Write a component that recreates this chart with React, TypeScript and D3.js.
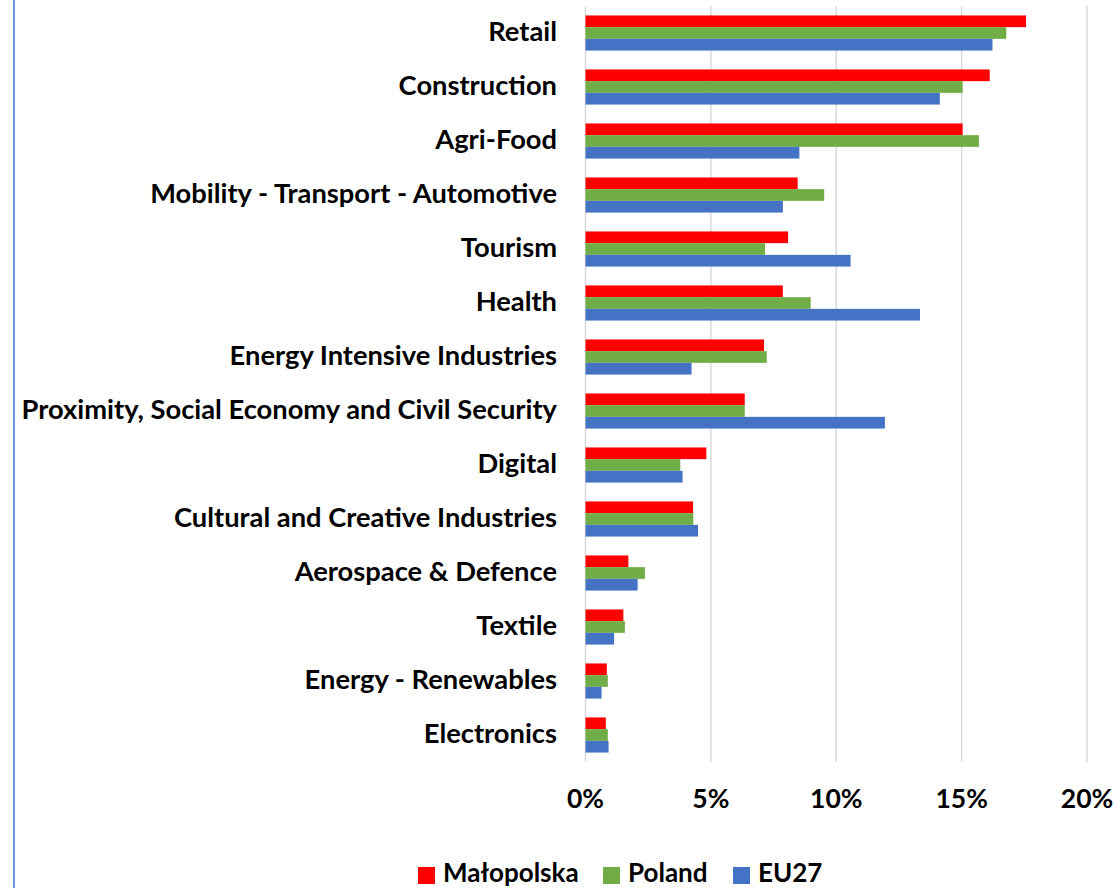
import React from "react";
import * as d3 from "d3";

const categories = [
  "Retail",
  "Construction",
  "Agri-Food",
  "Mobility - Transport - Automotive",
  "Tourism",
  "Health",
  "Energy Intensive Industries",
  "Proximity, Social Economy and Civil Security",
  "Digital",
  "Cultural and Creative Industries",
  "Aerospace & Defence",
  "Textile",
  "Energy - Renewables",
  "Electronics",
];

const malopolska = [17.57, 16.12, 15.04, 8.46, 8.08, 7.87, 7.12, 6.35, 4.82, 4.29, 1.71, 1.51, 0.85, 0.81];
const poland = [16.78, 15.04, 15.69, 9.52, 7.16, 8.98, 7.23, 6.35, 3.78, 4.3, 2.37, 1.57, 0.89, 0.89];
const eu27 = [16.23, 14.13, 8.53, 7.87, 10.57, 13.34, 4.23, 11.94, 3.87, 4.49, 2.08, 1.14, 0.64, 0.92];

const seriesNames = ["Małopolska", "Poland", "EU27"];
const seriesColors = ["#FF0000", "#70AD47", "#4472C4"];
const xTicks = [0, 5, 10, 15, 20];

const W = 1119;
const H = 888;
const FONT = "Lato, 'Open Sans', sans-serif";

export default function App() {
  const series = [malopolska, poland, eu27];
  const x = d3.scaleLinear().domain([0, 20]).range([585.5, 1087]);
  const y = d3.scaleBand<string>().domain(categories).range([6, 762]).paddingInner(0.35).paddingOuter(0.175);
  const inner = d3.scaleBand<number>().domain([0, 1, 2]).range([0, y.bandwidth()]);

  const legendX = [418, 603, 733];

  return (
    <svg
      width={W}
      height={H}
      style={{ position: "absolute", left: 0, top: 0, background: "#fff" }}
      fontFamily={FONT}
    >
      <rect x={0} y={0} width={W} height={H} fill="#fff" />
      <line x1={14} x2={14} y1={0} y2={H} stroke="#6A95DA" strokeWidth={2} />
      {xTicks.map((t) => (
        <line key={t} x1={x(t)} x2={x(t)} y1={6} y2={762} stroke="#D9D9D9" strokeWidth={1.5} />
      ))}
      {categories.map((c, i) => (
        <g key={c}>
          {series.map((s, j) => (
            <rect
              key={j}
              x={x(0)}
              y={(y(c) as number) + (inner(j) as number)}
              width={x(s[i]) - x(0)}
              height={inner.bandwidth()}
              fill={seriesColors[j]}
            />
          ))}
          <text
            x={557}
            y={(y(c) as number) + y.bandwidth() / 2 - 3}
            textAnchor="end"
            dominantBaseline="central"
            fontWeight={700}
            fontSize={27.3}
            fill="#000"
          >
            {c}
          </text>
        </g>
      ))}
      {xTicks.map((t) => (
        <text
          key={t}
          x={x(t)}
          y={798}
          textAnchor="middle"
          dominantBaseline="central"
          fontWeight={700}
          fontSize={26.5}
          fill="#000"
        >
          {t + "%"}
        </text>
      ))}
      {seriesNames.map((n, j) => (
        <g key={n}>
          <rect x={legendX[j]} y={867} width={17} height={17} fill={seriesColors[j]} />
          <text
            x={legendX[j] + 25}
            y={872}
            dominantBaseline="central"
            fontWeight={700}
            fontSize={26}
            fill="#000"
          >
            {n}
          </text>
        </g>
      ))}
    </svg>
  );
}
